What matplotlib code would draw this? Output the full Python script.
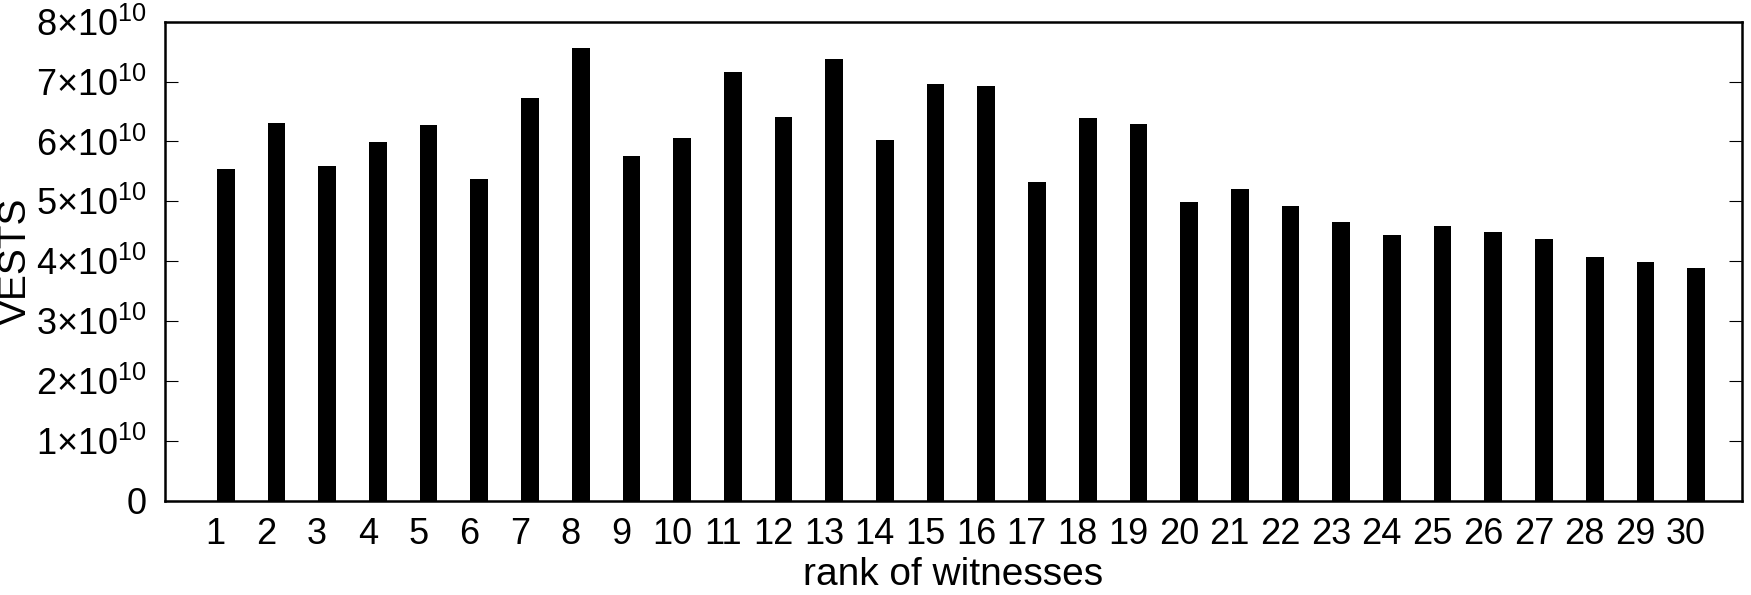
import matplotlib
matplotlib.use("Agg")
import matplotlib.pyplot as plt

# fonts: helvetica-like look
plt.rcParams['font.family'] = ['Liberation Sans', 'DejaVu Sans']
plt.rcParams['mathtext.fontset'] = 'custom'
plt.rcParams['mathtext.rm'] = 'Liberation Sans'
plt.rcParams['mathtext.it'] = 'Liberation Sans:italic'
plt.rcParams['mathtext.bf'] = 'Liberation Sans:bold'

# data (units of 1e10 VESTS)
ranks = list(range(1, 31))
vests = [5.54, 6.31, 5.59, 5.99, 6.28, 5.37, 6.73, 7.56, 5.75, 6.05,
         7.16, 6.41, 7.37, 6.02, 6.96, 6.92, 5.32, 6.39, 6.29, 4.99,
         5.20, 4.92, 4.66, 4.44, 4.59, 4.49, 4.37, 4.07, 3.99, 3.89]
vests = [v * 1e10 for v in vests]

ytick_vals = [i * 1e10 for i in range(9)]
ytick_labels = ['0'] + [r'$%d{\times}10^{10}$' % i for i in range(1, 9)]

fig = plt.figure(figsize=(17.51, 5.95), dpi=100)
ax = fig.add_axes([0.0942, 0.1585, 0.9005, 0.805])

# bars sit a bit right of the tick (gnuplot style)
ax.bar([r + 0.2 for r in ranks], vests, width=0.35, color='black', linewidth=0)

ax.set_xlim(0, 31.1)
ax.set_ylim(0, 8e10)
ax.set_xticks(ranks)
ax.set_xticklabels([str(r) for r in ranks])
ax.set_yticks(ytick_vals)
ax.set_yticklabels(ytick_labels)

ax.tick_params(axis='x', length=0, pad=12, labelsize=26)
ax.tick_params(axis='y', direction='in', length=9.5, width=0.8,
               left=True, right=True, pad=13, labelsize=26)
for s in ax.spines.values():
    s.set_linewidth(1.8)

fig.text(953.4 / 1751, 1 - 585 / 595, 'rank of witnesses', fontsize=28,
         ha='center', va='baseline')
fig.text(16 / 1751, 1 - 261 / 595, 'VESTS', fontsize=28, rotation=90,
         ha='center', va='center')

fig.savefig('out.png', dpi=100)
